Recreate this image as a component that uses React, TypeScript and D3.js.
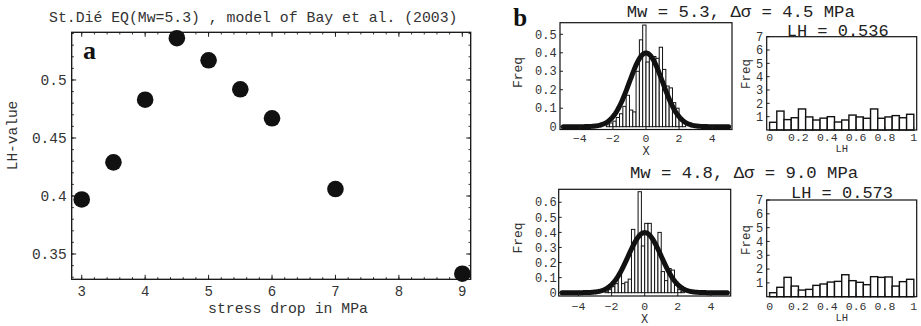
import React from "react";
import * as d3 from "d3";

const MONO = "'Liberation Mono', 'Courier New', monospace";
const SERIF = "'Liberation Serif', 'Times New Roman', serif";

// ---------- Panel a data ----------
const stressDrop = [3, 3.5, 4, 4.5, 5, 5.5, 6, 7, 9];
const lhValue = [0.397, 0.429, 0.483, 0.536, 0.517, 0.492, 0.467, 0.406, 0.333];
const aXTicks = [3, 4, 5, 6, 7, 8, 9];
const aYTicks = [0.35, 0.4, 0.45, 0.5];
const aYTickLabels = ["0.35", "0.4", "0.45", "0.5"];

// ---------- Panel b data ----------
const normBinLefts = [
  -2.6, -2.4, -2.2, -2.0, -1.8, -1.6, -1.4, -1.2, -1.0, -0.8, -0.6, -0.4, -0.2,
  0.0, 0.2, 0.4, 0.6, 0.8, 1.0, 1.2, 1.4, 1.6, 1.8, 2.0, 2.2,
];
const normBinWidth = 0.2;
const freqMw53 = [
  0.0, 0.01, 0.02, 0.03, 0.05, 0.07, 0.11, 0.17, 0.09, 0.08, 0.3, 0.47, 0.55,
  0.35, 0.37, 0.38, 0.37, 0.43, 0.31, 0.22, 0.21, 0.13, 0.1, 0.05, 0.02,
];
const freqMw48 = [
  0.0, 0.01, 0.02, 0.04, 0.06, 0.13, 0.06, 0.07, 0.09, 0.42, 0.34, 0.67, 0.31,
  0.46, 0.46, 0.35, 0.3, 0.4, 0.14, 0.08, 0.16, 0.15, 0.05, 0.02, 0.01,
];
const lhBinLefts = [
  0, 0.05, 0.1, 0.15, 0.2, 0.25, 0.3, 0.35, 0.4, 0.45, 0.5, 0.55, 0.6, 0.65,
  0.7, 0.75, 0.8, 0.85, 0.9, 0.95,
];
const lhBinWidth = 0.05;
const lhFreq53 = [
  0.58, 1.42, 0.78, 0.92, 1.58, 0.98, 0.75, 0.89, 1.0, 0.6, 0.75, 1.12, 0.98,
  0.88, 1.58, 0.88, 0.98, 1.08, 0.92, 1.18,
];
const lhFreq48 = [
  0.29, 0.68, 1.4, 0.77, 0.48, 0.53, 0.82, 0.92, 1.06, 1.11, 1.59, 1.16, 1.04,
  0.87, 1.45, 1.4, 1.43, 0.77, 1.09, 1.26,
];
const normXTicks = [-4, -2, 0, 2, 4];
const normXTickLabels = ["\u22124", "\u22122", "0", "2", "4"];
const yTicks53 = [0, 0.1, 0.2, 0.3, 0.4, 0.5];
const yTicks48 = [0, 0.1, 0.2, 0.3, 0.4, 0.5, 0.6];
const lhXTicks = [0, 0.2, 0.4, 0.6, 0.8, 1];
const lhXTickLabels = ["0", "0.2", "0.4", "0.6", "0.8", "1"];
const lhYTicks = [1, 2, 3, 4, 5, 6, 7];

const fmt = (v: number) => (v === 0 ? "0" : String(v));

type Box = { left: number; right: number; top: number; bottom: number };

function PanelA() {
  const box: Box = { left: 71.7, right: 470.7, top: 32.3, bottom: 279.3 };
  const x = d3.scaleLinear().domain([2.842, 9.132]).range([box.left, box.right]);
  const y = d3.scaleLinear().domain([0.3282, 0.5411]).range([box.bottom, box.top]);
  const xMinor = d3.range(2.8, 9.2001, 0.2).filter((v) => v >= 2.842 && v <= 9.132);
  const yMinor = d3.range(0.33, 0.5401, 0.01);
  const maj = 4.5,
    mn = 2.2;
  return (
    <g>
      <text x={49} y={22} fontFamily={MONO} fontSize={14.8} fill="#333">
        St.Dié EQ(Mw=5.3) , model of Bay et al. (2003)
      </text>
      {xMinor.map((v, i) => (
        <g key={"xm" + i}>
          <line x1={x(v)} x2={x(v)} y1={box.bottom} y2={box.bottom - mn} stroke="#222" strokeWidth={0.9} />
          <line x1={x(v)} x2={x(v)} y1={box.top} y2={box.top + mn} stroke="#222" strokeWidth={0.9} />
        </g>
      ))}
      {aXTicks.map((v, i) => (
        <g key={"xM" + i}>
          <line x1={x(v)} x2={x(v)} y1={box.bottom} y2={box.bottom - maj} stroke="#222" strokeWidth={1} />
          <line x1={x(v)} x2={x(v)} y1={box.top} y2={box.top + maj} stroke="#222" strokeWidth={1} />
          <text x={x(v)} y={296} textAnchor="middle" fontFamily={MONO} fontSize={14} fill="#333">
            {v}
          </text>
        </g>
      ))}
      {yMinor.map((v, i) => (
        <g key={"ym" + i}>
          <line x1={box.left} x2={box.left + mn} y1={y(v)} y2={y(v)} stroke="#222" strokeWidth={0.9} />
          <line x1={box.right} x2={box.right - mn} y1={y(v)} y2={y(v)} stroke="#222" strokeWidth={0.9} />
        </g>
      ))}
      {aYTicks.map((v, i) => (
        <g key={"yM" + i}>
          <line x1={box.left} x2={box.left + maj} y1={y(v)} y2={y(v)} stroke="#222" strokeWidth={1} />
          <line x1={box.right} x2={box.right - maj} y1={y(v)} y2={y(v)} stroke="#222" strokeWidth={1} />
          <text x={66.7} y={y(v) + 5} textAnchor="end" fontFamily={MONO} fontSize={14.5} fill="#333">
            {aYTickLabels[i]}
          </text>
        </g>
      ))}
      <rect
        x={box.left}
        y={box.top}
        width={box.right - box.left}
        height={box.bottom - box.top}
        fill="none"
        stroke="#111"
        strokeWidth={1.3}
      />
      {stressDrop.map((v, i) => (
        <circle key={"p" + i} cx={x(v)} cy={y(lhValue[i])} r={8.3} fill="#111" />
      ))}
      <text x={83} y={59.3} fontFamily={SERIF} fontWeight="bold" fontSize={26} fill="#111">
        a
      </text>
      <text
        transform="translate(13,135.5) rotate(-90)"
        textAnchor="middle"
        dominantBaseline="central"
        fontFamily={MONO}
        fontSize={14.5}
        fill="#333"
      >
        LH-value
      </text>
      <text x={288} y={312.5} textAnchor="middle" fontFamily={MONO} fontSize={14.8} fill="#333">
        stress drop in MPa
      </text>
    </g>
  );
}

function NormHist(props: {
  box: Box;
  yDomain: [number, number];
  freq: number[];
  yTicks: number[];
  title: string;
  titleX: number;
  titleY: number;
  freqY: number;
  xTickY: number;
  xLabelY: number;
}) {
  const { box, yDomain, freq, yTicks, title, titleX, titleY, freqY, xTickY, xLabelY } = props;
  const x = d3.scaleLinear().domain([-5.2, 5.2]).range([box.left, box.right]);
  const y = d3.scaleLinear().domain(yDomain).range([box.bottom, box.top]);
  const curveX = d3.range(-5, 5.0001, 0.05);
  const line = d3
    .line<number>()
    .x((d) => x(d))
    .y((d) => y(Math.exp(-d * d / 2) / Math.sqrt(2 * Math.PI)));
  return (
    <g>
      <text x={titleX} y={titleY} fontFamily={MONO} fontSize={17.3} fill="#222">
        {title}
      </text>
      {normBinLefts.map((b, i) => (
        <rect
          key={"b" + i}
          x={x(b)}
          y={y(freq[i])}
          width={x(b + normBinWidth) - x(b)}
          height={y(0) - y(freq[i])}
          fill="#fff"
          stroke="#111"
          strokeWidth={1}
        />
      ))}
      <path d={line(curveX) || ""} fill="none" stroke="#111" strokeWidth={5} strokeLinecap="round" strokeLinejoin="round" />
      {yTicks.map((v, i) => (
        <g key={"y" + i}>
          <line x1={box.left} x2={box.left + 3} y1={y(v)} y2={y(v)} stroke="#222" strokeWidth={1} />
          <text x={556.7} y={y(v) + 4.2} textAnchor="end" fontFamily={MONO} fontSize={12} fill="#333">
            {fmt(v)}
          </text>
        </g>
      ))}
      {normXTicks.map((v, i) => (
        <g key={"x" + i}>
          <line x1={x(v)} x2={x(v)} y1={box.bottom} y2={box.bottom - 3} stroke="#222" strokeWidth={1} />
          <text x={x(v)} y={xTickY} textAnchor="middle" fontFamily={MONO} fontSize={11.5} fill="#333">
            {normXTickLabels[i]}
          </text>
        </g>
      ))}
      <rect
        x={box.left}
        y={box.top}
        width={box.right - box.left}
        height={box.bottom - box.top}
        fill="none"
        stroke="#111"
        strokeWidth={1.2}
      />
      <text
        transform={`translate(518,${freqY}) rotate(-90)`}
        textAnchor="middle"
        dominantBaseline="central"
        fontFamily={MONO}
        fontSize={13}
        fill="#333"
      >
        Freq
      </text>
      <text x={x(0)} y={xLabelY} textAnchor="middle" fontFamily={MONO} fontSize={12} fill="#333">
        X
      </text>
    </g>
  );
}

function LHHist(props: {
  box: Box;
  freq: number[];
  title: string;
  titleX: number;
  titleY: number;
  freqY: number;
  xTickY: number;
  xLabelY: number;
}) {
  const { box, freq, title, titleX, titleY, freqY, xTickY, xLabelY } = props;
  const x = d3.scaleLinear().domain([-0.02, 1.02]).range([box.left, box.right]);
  const y = d3.scaleLinear().domain([0, 7]).range([box.bottom, box.top]);
  return (
    <g>
      <text x={titleX} y={titleY} fontFamily={MONO} fontSize={17} fill="#222">
        {title}
      </text>
      {lhBinLefts.map((b, i) => (
        <rect
          key={"b" + i}
          x={x(b)}
          y={y(freq[i])}
          width={x(b + lhBinWidth) - x(b)}
          height={y(0) - y(freq[i])}
          fill="#fff"
          stroke="#111"
          strokeWidth={1.4}
        />
      ))}
      {lhYTicks.map((v, i) => (
        <g key={"y" + i}>
          <line x1={box.left} x2={box.left + 3} y1={y(v)} y2={y(v)} stroke="#222" strokeWidth={1} />
          <text x={763.3} y={y(v) + 4.2} textAnchor="end" fontFamily={MONO} fontSize={12} fill="#333">
            {v}
          </text>
        </g>
      ))}
      {lhXTicks.map((v, i) => (
        <g key={"x" + i}>
          <line x1={x(v)} x2={x(v)} y1={box.bottom} y2={box.bottom - 3} stroke="#222" strokeWidth={1} />
          <text x={x(v)} y={xTickY} textAnchor="middle" fontFamily={MONO} fontSize={11.5} fill="#333">
            {lhXTickLabels[i]}
          </text>
        </g>
      ))}
      <rect
        x={box.left}
        y={box.top}
        width={box.right - box.left}
        height={box.bottom - box.top}
        fill="none"
        stroke="#111"
        strokeWidth={1.2}
      />
      <text
        transform={`translate(747,${freqY}) rotate(-90)`}
        textAnchor="middle"
        dominantBaseline="central"
        fontFamily={MONO}
        fontSize={12.5}
        fill="#333"
      >
        Freq
      </text>
      <text x={(box.left + box.right) / 2} y={xLabelY} textAnchor="middle" fontFamily={MONO} fontSize={10.5} fill="#333">
        LH
      </text>
    </g>
  );
}

export default function App() {
  return (
    <svg
      width={921}
      height={326}
      viewBox="0 0 921 326"
      style={{ position: "absolute", left: 0, top: 0, background: "#fff" }}
    >
      <rect x={0} y={0} width={921} height={326} fill="#fff" />
      <PanelA />
      <text x={513.3} y={26} fontFamily={SERIF} fontWeight="bold" fontSize={25} fill="#111">
        b
      </text>
      <NormHist
        box={{ left: 560, right: 732, top: 22.7, bottom: 129.5 }}
        yDomain={[-0.0152, 0.5628]}
        freq={freqMw53}
        yTicks={yTicks53}
        title="Mw = 5.3, Δσ = 4.5 MPa"
        titleX={626.7}
        titleY={16.7}
        freqY={72.5}
        xTickY={141.5}
        xLabelY={154.5}
      />
      <LHHist
        box={{ left: 766.7, right: 916.7, top: 36.7, bottom: 130 }}
        freq={lhFreq53}
        title="LH = 0.536"
        titleX={786.7}
        titleY={35.5}
        freqY={74}
        xTickY={141}
        xLabelY={151.5}
      />
      <NormHist
        box={{ left: 558.7, right: 730.7, top: 189.3, bottom: 296 }}
        yDomain={[-0.022, 0.686]}
        freq={freqMw48}
        yTicks={yTicks48}
        title="Mw = 4.8, Δσ = 9.0 MPa"
        titleX={630}
        titleY={178}
        freqY={238}
        xTickY={309.5}
        xLabelY={322.5}
      />
      <LHHist
        box={{ left: 766.7, right: 916.7, top: 200, bottom: 296.7 }}
        freq={lhFreq48}
        title="LH = 0.573"
        titleX={791}
        titleY={197.5}
        freqY={240}
        xTickY={309.5}
        xLabelY={320.5}
      />
    </svg>
  );
}
